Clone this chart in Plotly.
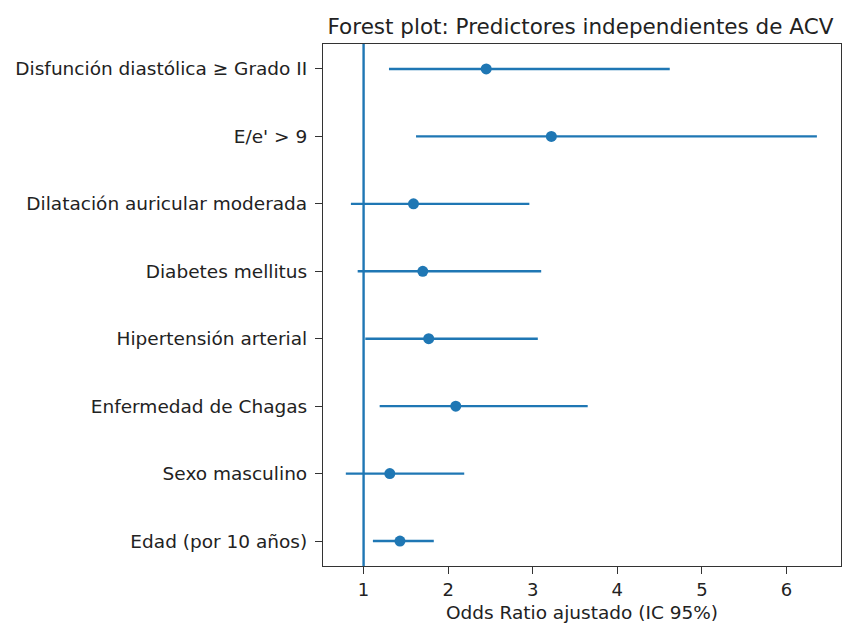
import plotly.graph_objects as go

# Predictors (top to bottom) with adjusted odds ratios and 95% CI bounds
predictors = [
    "Disfunción diastólica ≥ Grado II",
    "E/e' > 9",
    "Dilatación auricular moderada",
    "Diabetes mellitus",
    "Hipertensión arterial",
    "Enfermedad de Chagas",
    "Sexo masculino",
    "Edad (por 10 años)",
]
odds_ratio = [2.45, 3.22, 1.59, 1.70, 1.77, 2.09, 1.31, 1.43]
ci_lower = [1.30, 1.62, 0.85, 0.93, 1.02, 1.19, 0.79, 1.11]
ci_upper = [4.62, 6.36, 2.96, 3.10, 3.06, 3.65, 2.19, 1.83]

x_ticks = [1, 2, 3, 4, 5, 6]

blue = "#1f77b4"
font_family = "DejaVu Sans"

err_plus = [u - o for u, o in zip(ci_upper, odds_ratio)]
err_minus = [o - l for o, l in zip(odds_ratio, ci_lower)]

fig = go.Figure()

fig.add_trace(go.Scatter(
    x=odds_ratio,
    y=predictors,
    mode="markers",
    marker=dict(color=blue, size=11),
    error_x=dict(
        type="data",
        symmetric=False,
        array=err_plus,
        arrayminus=err_minus,
        color=blue,
        thickness=2.4,
        width=0,
    ),
    showlegend=False,
))

# Reference line at OR = 1
fig.add_shape(
    type="line", xref="x", yref="paper",
    x0=1, x1=1, y0=0, y1=1,
    line=dict(color=blue, width=2.4),
)

fig.update_layout(
    width=849,
    height=627,
    margin=dict(l=323, r=7, t=44, b=58),
    paper_bgcolor="white",
    plot_bgcolor="white",
    font=dict(family=font_family, size=18, color="#222"),
    title=dict(
        text="Forest plot: Predictores independientes de ACV",
        x=0.497, xref="paper", xanchor="center",
        y=1, yref="paper", yanchor="bottom",
        pad=dict(b=10),
        font=dict(size=21.5, color="#222"),
    ),
)

fig.update_xaxes(
    range=[0.52, 6.645],
    tickvals=x_ticks,
    ticktext=[str(t) for t in x_ticks],
    ticks="outside", ticklen=7, tickwidth=1.2, tickcolor="#333",
    showgrid=False, zeroline=False,
    showline=True, linecolor="#333", linewidth=1.2, mirror=True,
    title=dict(text="Odds Ratio ajustado (IC 95%)", standoff=7,
               font=dict(size=18.5)),
    tickfont=dict(size=18),
)

fig.update_yaxes(
    type="category",
    categoryorder="array",
    categoryarray=list(reversed(predictors)),
    range=[-0.37, len(predictors) - 1 + 0.37],
    ticks="outside", ticklen=7, tickwidth=1.2, tickcolor="#333",
    ticklabelstandoff=4,
    showgrid=False, zeroline=False,
    showline=True, linecolor="#333", linewidth=1.2, mirror=True,
    tickfont=dict(size=18.5),
)

fig.write_html("out.html")
